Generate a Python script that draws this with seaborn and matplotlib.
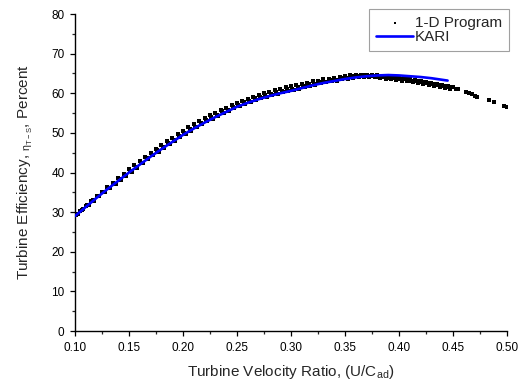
import numpy as np
import pandas as pd
import matplotlib
matplotlib.use("Agg")
import matplotlib.pyplot as plt
import seaborn as sns
from matplotlib.ticker import MultipleLocator, FormatStrFormatter

# KARI curve
kari_x = [0.100, 0.110, 0.120, 0.130, 0.140, 0.150, 0.160, 0.170, 0.180, 0.190,
          0.200, 0.210, 0.220, 0.230, 0.240, 0.250, 0.260, 0.270, 0.280, 0.290,
          0.300, 0.310, 0.320, 0.330, 0.340, 0.350, 0.360, 0.370, 0.380, 0.390,
          0.400, 0.410, 0.420, 0.430, 0.440, 0.445]
kari_y = [29.0, 31.3, 33.6, 35.8, 37.9, 40.0, 42.0, 44.0, 45.9, 47.7,
          49.5, 51.1, 52.6, 54.0, 55.3, 56.6, 57.6, 58.5, 59.3, 60.0,
          60.6, 61.3, 62.0, 62.6, 63.1, 63.6, 64.0, 64.3, 64.5, 64.6,
          64.5, 64.3, 64.1, 63.8, 63.4, 63.2]

# 1-D program points: upper edge of band
prog_x1 = [0.100, 0.105, 0.110, 0.115, 0.120, 0.125, 0.130, 0.135, 0.140, 0.145,
           0.150, 0.155, 0.160, 0.165, 0.170, 0.175, 0.180, 0.185, 0.190, 0.195,
           0.200, 0.205, 0.210, 0.215, 0.220, 0.225, 0.230, 0.235, 0.240, 0.245,
           0.250, 0.255, 0.260, 0.265, 0.270, 0.275, 0.280, 0.285, 0.290, 0.295,
           0.300, 0.305, 0.310, 0.315, 0.320, 0.325, 0.330, 0.335, 0.340, 0.345,
           0.350, 0.355, 0.360, 0.365, 0.370, 0.375, 0.380, 0.385, 0.390, 0.395,
           0.400, 0.405, 0.410, 0.415, 0.420, 0.425, 0.430, 0.435, 0.440, 0.445,
           0.450]
prog_y1 = [29.2, 30.4, 31.6, 32.8, 34.0, 35.1, 36.3, 37.4, 38.5, 39.7,
           40.8, 41.9, 43.0, 44.0, 45.0, 46.0, 47.0, 47.9, 48.8, 49.7,
           50.6, 51.4, 52.2, 53.0, 53.7, 54.4, 55.1, 55.8, 56.4, 57.0,
           57.6, 58.1, 58.6, 59.1, 59.6, 60.0, 60.4, 60.8, 61.1, 61.5,
           61.8, 62.1, 62.4, 62.7, 63.0, 63.2, 63.5, 63.7, 63.9, 64.1,
           64.3, 64.5, 64.6, 64.7, 64.7, 64.6, 64.5, 64.3, 64.2, 64.0,
           63.9, 63.7, 63.5, 63.3, 63.1, 62.9, 62.7, 62.4, 62.1, 61.8,
           61.5]

# 1-D program points: middle of band
prog_x2 = [0.10125, 0.10625, 0.11125, 0.11625, 0.12125, 0.12625, 0.13125, 0.13625, 0.14125, 0.14625,
           0.15125, 0.15625, 0.16125, 0.16625, 0.17125, 0.17625, 0.18125, 0.18625, 0.19125, 0.19625,
           0.20125, 0.20625, 0.21125, 0.21625, 0.22125, 0.22625, 0.23125, 0.23625, 0.24125, 0.24625,
           0.25125, 0.25625, 0.26125, 0.26625, 0.27125, 0.27625, 0.28125, 0.28625, 0.29125, 0.29625,
           0.30125, 0.30625, 0.31125, 0.31625, 0.32125, 0.32625, 0.33125, 0.33625, 0.34125, 0.34625,
           0.35125, 0.35625, 0.36125, 0.36625, 0.37125, 0.37625, 0.38125, 0.38625, 0.39125, 0.39625,
           0.40125, 0.40625, 0.41125, 0.41625, 0.42125, 0.42625, 0.43125, 0.43625, 0.44125, 0.44625]
prog_y2 = [29.3, 30.5, 31.7, 33.0, 34.1, 35.1, 36.2, 37.2, 38.3, 39.4,
           40.4, 41.5, 42.5, 43.6, 44.5, 45.6, 46.4, 47.5, 48.2, 49.3,
           50.0, 51.0, 51.6, 52.6, 53.2, 54.0, 54.6, 55.4, 55.8, 56.5,
           57.0, 57.7, 58.0, 58.7, 59.0, 59.6, 59.8, 60.4, 60.5, 61.1,
           61.2, 61.7, 61.8, 62.3, 62.4, 62.8, 62.9, 63.3, 63.4, 63.8,
           63.9, 64.3, 64.3, 64.6, 64.4, 64.4, 64.2, 64.1, 63.9, 63.8,
           63.6, 63.5, 63.2, 63.1, 62.8, 62.7, 62.3, 62.1, 61.8, 61.5]

# 1-D program points: lower edge of band
prog_x3 = [0.1025, 0.1075, 0.1125, 0.1175, 0.1225, 0.1275, 0.1325, 0.1375, 0.1425, 0.1475,
           0.1525, 0.1575, 0.1625, 0.1675, 0.1725, 0.1775, 0.1825, 0.1875, 0.1925, 0.1975,
           0.2025, 0.2075, 0.2125, 0.2175, 0.2225, 0.2275, 0.2325, 0.2375, 0.2425, 0.2475,
           0.2525, 0.2575, 0.2625, 0.2675, 0.2725, 0.2775, 0.2825, 0.2875, 0.2925, 0.2975,
           0.3025, 0.3075, 0.3125, 0.3175, 0.3225, 0.3275, 0.3325, 0.3375, 0.3425, 0.3475,
           0.3525, 0.3575, 0.3625, 0.3675, 0.3725, 0.3775, 0.3825, 0.3875, 0.3925, 0.3975,
           0.4025, 0.4075, 0.4125, 0.4175, 0.4225, 0.4275, 0.4325, 0.4375, 0.4425, 0.4475]
prog_y3 = [29.5, 30.7, 31.8, 32.9, 34.0, 35.1, 36.1, 37.1, 38.1, 39.2,
           40.2, 41.2, 42.3, 43.3, 44.3, 45.2, 46.2, 47.1, 48.0, 48.9,
           49.7, 50.6, 51.4, 52.2, 52.9, 53.6, 54.3, 55.0, 55.6, 56.2,
           56.8, 57.3, 57.8, 58.3, 58.7, 59.1, 59.5, 59.9, 60.2, 60.6,
           60.9, 61.2, 61.6, 61.9, 62.2, 62.5, 62.8, 63.0, 63.2, 63.5,
           63.7, 63.9, 64.0, 64.1, 64.1, 64.0, 63.9, 63.7, 63.5, 63.4,
           63.2, 63.0, 62.8, 62.6, 62.4, 62.2, 61.9, 61.6, 61.3, 61.1]

# 1-D program points: sparse tail
prog_x4 = [0.4525, 0.4550, 0.4620, 0.4650, 0.4680, 0.4700, 0.4720, 0.4830, 0.4880, 0.4970, 0.5000]
prog_y4 = [61.2, 61.0, 60.4, 60.1, 59.8, 59.4, 59.1, 58.3, 57.8, 56.8, 56.5]

prog = pd.DataFrame({
    "x": prog_x1 + prog_x2 + prog_x3 + prog_x4,
    "y": prog_y1 + prog_y2 + prog_y3 + prog_y4,
})
kari = pd.DataFrame({"x": kari_x, "y": kari_y})

sns.set_style("ticks")
plt.rcParams["font.family"] = ["Liberation Sans", "DejaVu Sans"]
plt.rcParams["mathtext.fontset"] = "custom"
plt.rcParams["mathtext.rm"] = "Liberation Sans"
plt.rcParams["mathtext.it"] = "Liberation Sans:italic"

fig = plt.figure(figsize=(5.18, 3.84), dpi=100)
ax = fig.add_axes([0.1448, 0.138, 0.8340, 0.8255])

sns.scatterplot(data=prog, x="x", y="y", ax=ax, color="black", marker="s",
                s=5, linewidth=0, label="1-D Program", zorder=2)
sns.lineplot(data=kari, x="x", y="y", ax=ax, color="#0000ff", linewidth=1.9,
             label="KARI", zorder=3, sort=True)

ax.set_xlim(0.10, 0.50)
ax.set_ylim(0, 80)
ax.xaxis.set_major_locator(MultipleLocator(0.05))
ax.xaxis.set_minor_locator(MultipleLocator(0.025))
ax.xaxis.set_major_formatter(FormatStrFormatter("%.2f"))
ax.yaxis.set_major_locator(MultipleLocator(10))
ax.yaxis.set_minor_locator(MultipleLocator(5))
ax.tick_params(which="major", direction="out", length=3.6, width=0.9, labelsize=8.5,
               colors="black", pad=4)
ax.tick_params(which="minor", direction="out", length=2.2, width=0.9)
for side in ["top", "right"]:
    ax.spines[side].set_visible(False)
for side in ["left", "bottom"]:
    ax.spines[side].set_linewidth(1.0)
    ax.spines[side].set_color("black")
ax.grid(False)

ax.set_xlabel(r"Turbine Velocity Ratio, (U/C$_{\mathregular{ad}}$)", fontsize=11, labelpad=7)
ax.set_ylabel(r"Turbine Efficiency, $_{\mathregular{\eta_{T-S}}}$, Percent", fontsize=11, labelpad=12)

leg = ax.legend(loc="upper right", bbox_to_anchor=(0.983, 0.977), bbox_transform=fig.transFigure,
                fontsize=11, frameon=True, fancybox=False, borderaxespad=0,
                handlelength=2.4, handletextpad=0.15, borderpad=0.45, labelspacing=0.05,
                markerscale=0.6)
leg.get_frame().set_edgecolor("#888888")
leg.get_frame().set_linewidth(0.8)

fig.savefig("out.png", dpi=100)
